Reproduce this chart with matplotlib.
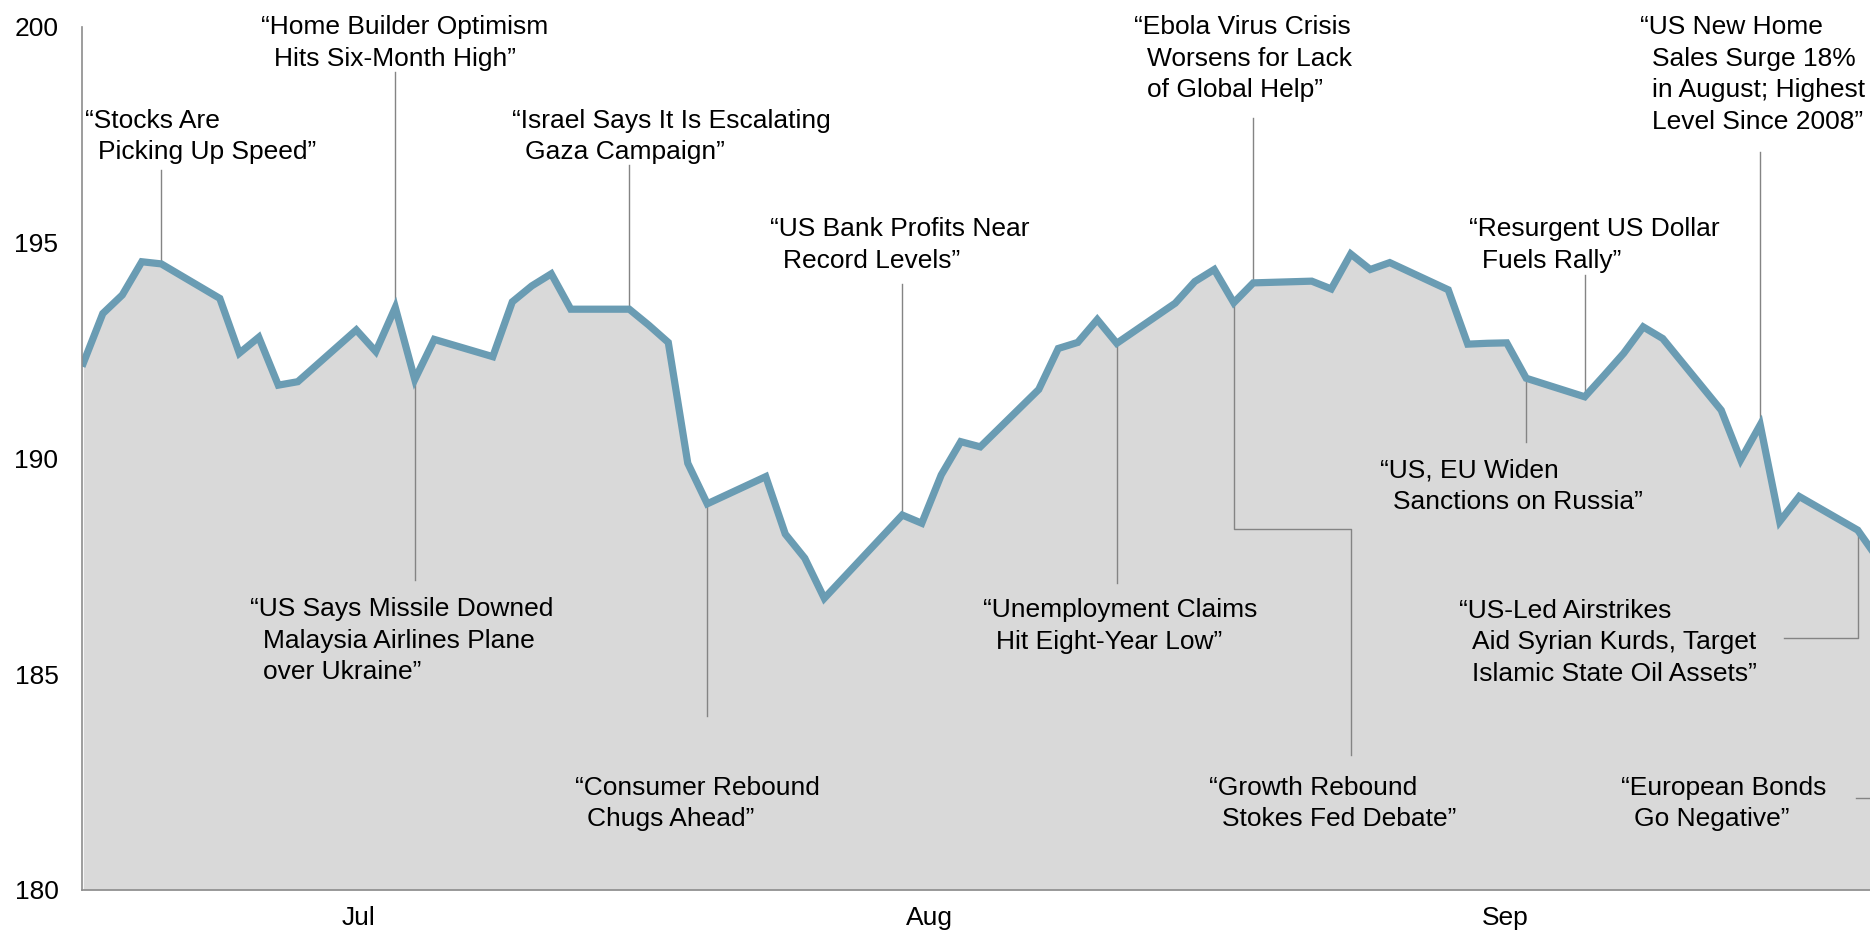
import pandas as pd
import matplotlib
matplotlib.use('Agg')
import matplotlib.pyplot as plt
import matplotlib.dates as mdates
import matplotlib.transforms as mtransforms

plt.rcParams['font.family'] = ['Liberation Sans', 'DejaVu Sans']

# daily closes
dates = ['2014-06-30', '2014-07-01', '2014-07-02', '2014-07-03', '2014-07-04',
         '2014-07-07', '2014-07-08', '2014-07-09', '2014-07-10', '2014-07-11',
         '2014-07-14', '2014-07-15', '2014-07-16', '2014-07-17', '2014-07-18',
         '2014-07-21', '2014-07-22', '2014-07-23', '2014-07-24', '2014-07-25',
         '2014-07-28', '2014-07-29', '2014-07-30', '2014-07-31', '2014-08-01',
         '2014-08-04', '2014-08-05', '2014-08-06', '2014-08-07',
         '2014-08-11', '2014-08-12', '2014-08-13', '2014-08-14', '2014-08-15',
         '2014-08-18', '2014-08-19', '2014-08-20', '2014-08-21', '2014-08-22',
         '2014-08-25', '2014-08-26', '2014-08-27', '2014-08-28', '2014-08-29',
         '2014-09-01', '2014-09-02', '2014-09-03', '2014-09-04', '2014-09-05',
         '2014-09-08', '2014-09-09', '2014-09-10', '2014-09-11', '2014-09-12',
         '2014-09-15', '2014-09-16', '2014-09-17', '2014-09-18', '2014-09-19',
         '2014-09-22', '2014-09-23', '2014-09-24', '2014-09-25', '2014-09-26',
         '2014-09-29', '2014-09-30']
values = [192.21, 193.36, 193.79, 194.56, 194.51,
          193.71, 192.44, 192.81, 191.70, 191.78,
          192.98, 192.48, 193.50, 191.83, 192.76,
          192.36, 193.63, 194.00, 194.28, 193.46,
          193.46, 193.09, 192.69, 189.89, 188.95,
          189.58, 188.25, 187.69, 186.76,
          188.69, 188.50, 189.62, 190.39, 190.27,
          191.60, 192.55, 192.69, 193.22, 192.67,
          193.60, 194.10, 194.38, 193.61, 194.07,
          194.11, 193.93, 194.74, 194.38, 194.54,
          193.91, 192.65, 192.67, 192.68, 191.86,
          191.43, 191.93, 192.44, 193.05, 192.78,
          191.12, 189.97, 190.78, 188.54, 189.12,
          188.34, 187.70]

start = '2014-06-30'
month_labels = ['Jul', 'Aug', 'Sep']
month_days = [14.1, 43.4, 72.9]          # days after start
y_ticks = [180, 185, 190, 195, 200]

headlines = [
    ['\u201cStocks Are', 'Picking Up Speed\u201d'],
    ['\u201cHome Builder Optimism', 'Hits Six-Month High\u201d'],
    ['\u201cUS Says Missile Downed', 'Malaysia Airlines Plane', 'over Ukraine\u201d'],
    ['\u201cIsrael Says It Is Escalating', 'Gaza Campaign\u201d'],
    ['\u201cConsumer Rebound', 'Chugs Ahead\u201d'],
    ['\u201cUS Bank Profits Near', 'Record Levels\u201d'],
    ['\u201cUnemployment Claims', 'Hit Eight-Year Low\u201d'],
    ['\u201cGrowth Rebound', 'Stokes Fed Debate\u201d'],
    ['\u201cEbola Virus Crisis', 'Worsens for Lack', 'of Global Help\u201d'],
    ['\u201cResurgent US Dollar', 'Fuels Rally\u201d'],
    ['\u201cUS, EU Widen', 'Sanctions on Russia\u201d'],
    ['\u201cUS New Home', 'Sales Surge 18%', 'in August; Highest', 'Level Since 2008\u201d'],
    ['\u201cUS-Led Airstrikes', 'Aid Syrian Kurds, Target', 'Islamic State Oil Assets\u201d'],
    ['\u201cEuropean Bonds', 'Go Negative\u201d'],
]
# first-line baseline of each headline: (days after start, value)
label_pos = [(0.09, 197.67), (9.11, 199.83), (8.57, 186.34), (21.98, 197.67),
             (25.2, 182.21), (35.24, 195.15), (46.14, 186.32), (57.75, 182.21),
             (53.88, 199.83), (71.06, 195.15), (66.5, 189.56), (79.81, 199.83),
             (70.55, 186.31), (78.88, 182.21)]
# leader lines: event date, then waypoints (days after start or None = same x, value)
leaders = [
    ('2014-07-04', [(None, 196.69)]),
    ('2014-07-16', [(None, 198.96)]),
    ('2014-07-17', [(None, 187.18)]),
    ('2014-07-28', [(None, 196.80)]),
    ('2014-08-01', [(None, 184.03)]),
    ('2014-08-11', [(None, 194.04)]),
    ('2014-08-22', [(None, 187.11)]),
    ('2014-08-28', [(None, 188.36), (65.0, 188.36), (65.0, 183.13)]),
    ('2014-08-29', [(None, 197.89)]),
    ('2014-09-15', [(None, 194.25)]),
    ('2014-09-12', [(None, 190.39)]),
    ('2014-09-24', [(None, 197.11)]),
    ('2014-09-29', [(None, 185.84), (87.2, 185.84)]),
    ('2014-09-30', [(None, 182.13), (90.9, 182.13)]),
]

x = mdates.date2num(pd.to_datetime(dates))
x0 = mdates.date2num(pd.Timestamp(start))
lookup = dict(zip(dates, values))

fig = plt.figure(figsize=(18.7, 9.32), dpi=100)
ax = fig.add_axes([82 / 1870, 42 / 932, 1788 / 1870, 863 / 932])

ax.fill_between(x, values, 180, color='#d9d9d9', lw=0, zorder=1)
ax.plot(x, values, color='#6a9cb3', lw=5.2, solid_joinstyle='miter', zorder=3)

for event, path in leaders:
    ex = mdates.date2num(pd.Timestamp(event))
    xs = [ex]
    ys = [lookup[event]]
    for d, v in path:
        xs.append(ex if d is None else x0 + d)
        ys.append(v)
    ax.plot(xs, ys, color='#848484', lw=1.0, zorder=2)

line_gap = 31.5   # px between headline lines
indent = 12.8     # px indent of following lines
for lines, (d, v) in zip(headlines, label_pos):
    for i, s in enumerate(lines):
        tr = mtransforms.offset_copy(ax.transData, fig=fig,
                                     x=(indent if i else 0) * 72 / fig.dpi,
                                     y=-line_gap * i * 72 / fig.dpi, units='points')
        ax.text(x0 + d, v, s, transform=tr, fontsize=19, ha='left',
                va='baseline', color='black', zorder=4)

ax.set_xlim(x0 - 0.067, x0 + 91.63)
ax.set_ylim(180, 200)
ax.set_yticks(y_ticks)
ax.set_xticks([x0 + d for d in month_days])
ax.set_xticklabels(month_labels)
ax.tick_params(axis='both', length=0, labelsize=19)
ax.tick_params(axis='y', pad=17)
ax.tick_params(axis='x', pad=11.5)

for side in ['top', 'right']:
    ax.spines[side].set_visible(False)
for side in ['left', 'bottom']:
    ax.spines[side].set_color('#8c8c8c')
    ax.spines[side].set_linewidth(1.2)
    ax.spines[side].set_zorder(5)

fig.savefig('out.png', dpi=100, facecolor='white')
plt.close(fig)
